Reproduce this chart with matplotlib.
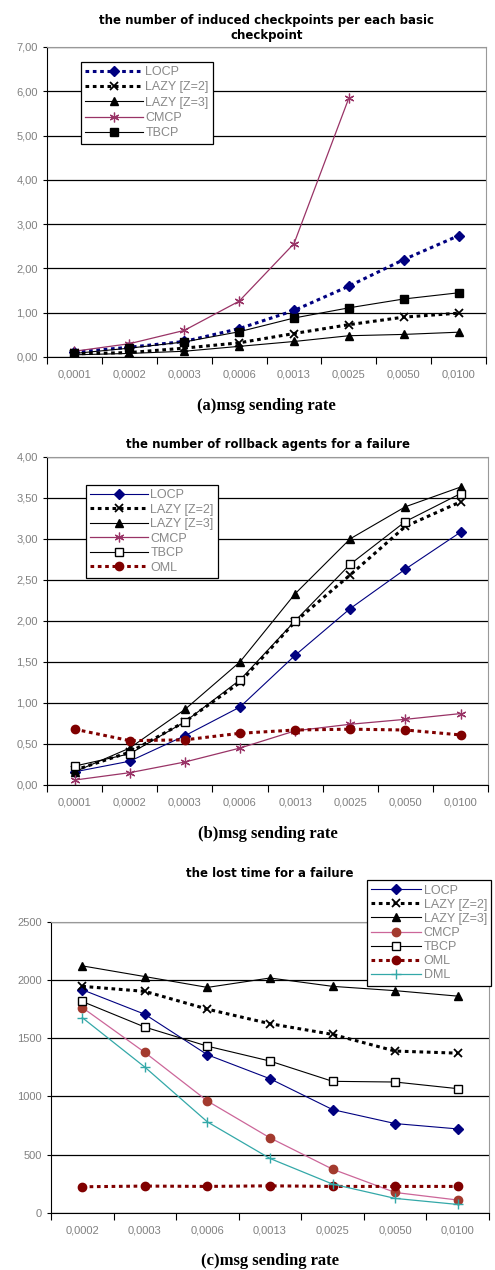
import numpy as np
import matplotlib
matplotlib.use("Agg")
import matplotlib.pyplot as plt
from matplotlib.ticker import FixedLocator, FuncFormatter

plt.rcParams['font.family'] = ['Liberation Sans', 'DejaVu Sans']

# ---- data ----
rates_ab = ["0,0001", "0,0002", "0,0003", "0,0006", "0,0013", "0,0025", "0,0050", "0,0100"]
rates_c = ["0,0002", "0,0003", "0,0006", "0,0013", "0,0025", "0,0050", "0,0100"]

# (a) induced checkpoints per basic checkpoint
a_locp = [0.11, 0.22, 0.35, 0.64, 1.05, 1.60, 2.20, 2.74]
a_lazy2 = [0.07, 0.10, 0.20, 0.32, 0.53, 0.73, 0.90, 0.99]
a_lazy3 = [0.05, 0.08, 0.13, 0.24, 0.35, 0.48, 0.51, 0.56]
a_cmcp = [0.13, 0.30, 0.60, 1.26, 2.56, 5.85]
a_tbcp = [0.08, 0.20, 0.34, 0.57, 0.88, 1.11, 1.31, 1.45]

# (b) rollback agents for a failure
b_locp = [0.16, 0.29, 0.60, 0.95, 1.58, 2.15, 2.63, 3.08]
b_lazy2 = [0.18, 0.40, 0.77, 1.25, 1.99, 2.56, 3.15, 3.45]
b_lazy3 = [0.16, 0.45, 0.92, 1.50, 2.33, 3.00, 3.39, 3.63]
b_cmcp = [0.06, 0.15, 0.28, 0.45, 0.66, 0.74, 0.80, 0.87]
b_tbcp = [0.23, 0.38, 0.77, 1.28, 2.00, 2.69, 3.21, 3.55]
b_oml = [0.68, 0.54, 0.55, 0.63, 0.67, 0.68, 0.67, 0.61]

# (c) lost time for a failure
c_locp = [1916, 1705, 1357, 1151, 886, 766, 720]
c_lazy2 = [1945, 1902, 1749, 1624, 1532, 1389, 1371]
c_lazy3 = [2121, 2029, 1936, 2017, 1945, 1908, 1861]
c_cmcp = [1763, 1377, 960, 643, 374, 174, 109]
c_tbcp = [1815, 1595, 1431, 1303, 1129, 1123, 1066]
c_oml = [223, 229, 226, 231, 226, 226, 226]
c_dml = [1676, 1251, 780, 466, 246, 123, 71]

NAVY = '#000080'
PLUM = '#993366'
BROWN = '#A33A2E'
DRED = '#800000'
TEAL = '#33A8A8'
STAR = (6, 2, 0)
DOT = (0, (1.2, 1.2))


def comma(fmt):
    return FuncFormatter(lambda v, p: (fmt % v).replace('.', ','))


def style_axes(ax, cats, ymax, ystep, yfmt, xlabel, title, title_y=None):
    n = len(cats)
    ax.set_xlim(-0.5, n - 0.5)
    ax.set_ylim(0, ymax)
    ax.set_yticks(np.arange(0, ymax + ystep / 2, ystep))
    ax.yaxis.set_major_formatter(comma(yfmt))
    ax.set_xticks(range(n))
    ax.set_xticklabels(cats)
    ax.xaxis.set_minor_locator(FixedLocator(np.arange(-0.5, n, 1.0)))
    ax.tick_params(axis='x', which='major', length=0, pad=9, labelsize=8, colors='#808080')
    ax.tick_params(axis='x', which='minor', length=5, width=0.8, color='black')
    ax.tick_params(axis='y', length=3, width=0.8, labelsize=8, colors='#808080')
    ax.tick_params(axis='y', color='black')
    ax.grid(axis='y', color='black', linewidth=0.9)
    ax.set_axisbelow(True)
    ax.spines['left'].set_color('black')
    ax.spines['bottom'].set_color('black')
    ax.spines['top'].set_color('#999999')
    ax.spines['right'].set_color('#999999')
    ax.set_xlabel(xlabel, family='Liberation Serif', fontweight='bold', fontsize=12, labelpad=13)
    ax.set_title(title, family='DejaVu Sans', fontweight='bold', fontsize=8.5, pad=6, y=title_y)


def legend(ax, anchor, hl, sp):
    lg = ax.legend(loc='upper left', bbox_to_anchor=anchor, borderaxespad=0,
                   fontsize=9, handlelength=hl, labelspacing=sp, frameon=True,
                   fancybox=False, edgecolor='black', framealpha=1,
                   borderpad=0.35, handletextpad=0.2, labelcolor='#888888')
    lg.get_frame().set_linewidth(0.9)


fig = plt.figure(figsize=(4.95, 12.7), dpi=100)

# ---- (a) ----
ax = fig.add_axes([0.095, 0.7189, 0.887, 0.2441])
x = np.arange(len(rates_ab))
ax.plot(x, a_locp, color=NAVY, ls=DOT, lw=2.2, marker='D', ms=5, label='LOCP')
ax.plot(x, a_lazy2, color='black', ls=DOT, lw=2.2, marker='x', ms=6, mew=1.3, label='LAZY [Z=2]')
ax.plot(x, a_lazy3, color='black', lw=0.8, marker='^', ms=6, label='LAZY [Z=3]')
ax.plot(x[:len(a_cmcp)], a_cmcp, color=PLUM, lw=0.9, marker=STAR, ms=7, mew=0.9, label='CMCP')
ax.plot(x, a_tbcp, color='black', lw=0.8, marker='s', ms=6, label='TBCP')
style_axes(ax, rates_ab, 7, 1, '%.2f', '(a)msg sending rate',
           'the number of induced checkpoints per each basic\ncheckpoint')
legend(ax, (0.077, 0.952), 4.6, 0.26)

# ---- (b) ----
ax = fig.add_axes([0.095, 0.3819, 0.891, 0.2585])
ax.plot(x, b_locp, color=NAVY, lw=0.8, marker='D', ms=5, label='LOCP')
ax.plot(x, b_lazy2, color='black', ls=DOT, lw=2.2, marker='x', ms=6, mew=1.3, label='LAZY [Z=2]')
ax.plot(x, b_lazy3, color='black', lw=0.8, marker='^', ms=6, label='LAZY [Z=3]')
ax.plot(x, b_cmcp, color=PLUM, lw=0.9, marker=STAR, ms=7, mew=0.9, label='CMCP')
ax.plot(x, b_tbcp, color='black', lw=0.8, marker='s', ms=6, mfc='white', label='TBCP')
ax.plot(x, b_oml, color=DRED, ls=DOT, lw=2.2, marker='o', ms=6, label='OML')
style_axes(ax, rates_ab, 4, 0.5, '%.2f', '(b)msg sending rate',
           'the number of rollback agents for a failure')
legend(ax, (0.088, 0.914), 4.6, 0.2)

# ---- (c) ----
ax = fig.add_axes([0.103, 0.0451, 0.885, 0.2291])
xc = np.arange(len(rates_c))
ax.plot(xc, c_locp, color=NAVY, lw=0.8, marker='D', ms=5, label='LOCP')
ax.plot(xc, c_lazy2, color='black', ls=DOT, lw=2.2, marker='x', ms=6, mew=1.3, label='LAZY [Z=2]')
ax.plot(xc, c_lazy3, color='black', lw=0.8, marker='^', ms=6, label='LAZY [Z=3]')
ax.plot(xc, c_cmcp, color='#CC6699', lw=0.9, marker='o', ms=6, mfc=BROWN, mec=BROWN, label='CMCP')
ax.plot(xc, c_tbcp, color='black', lw=0.8, marker='s', ms=6, mfc='white', label='TBCP')
ax.plot(xc, c_oml, color=DRED, ls=DOT, lw=2.2, marker='o', ms=6, label='OML')
ax.plot(xc, c_dml, color=TEAL, lw=0.9, marker='+', ms=7, mew=1.0, label='DML')
style_axes(ax, rates_c, 2500, 500, '%d', '(c)msg sending rate', 'the lost time for a failure',
           title_y=1.126)
legend(ax, (0.721, 1.143), 4.0, 0.17)

fig.savefig('out.png', dpi=100)
